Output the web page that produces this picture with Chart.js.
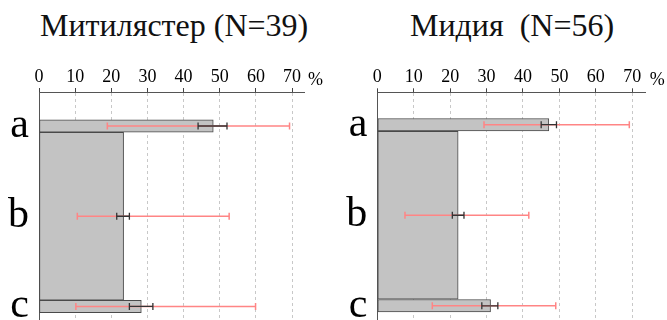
<!DOCTYPE html>
<html>
<head>
<meta charset="utf-8">
<script src="https://cdn.jsdelivr.net/npm/chart.js@4"></script>
<style>
html,body{margin:0;padding:0;background:#fff;overflow:hidden;width:667px;height:320px}
.title{position:absolute;font-family:"Liberation Serif",serif;font-size:32px;line-height:32px;color:#111;white-space:pre}
.box{position:absolute;top:0;height:320px}
</style>
</head>
<body>
<div class="title" id="t1" style="left:40px;top:9px"></div>
<div class="title" id="t2" style="left:410px;top:9px"></div>
<div class="box" style="left:0;width:334px"><canvas id="c1"></canvas></div>
<div class="box" style="left:334px;width:333px"><canvas id="c2"></canvas></div>
<script>
const categories=['a','b','c'];
const xTicks=[0,10,20,30,40,50,60,70];
const titles=['Митилястер (N=39)','Мидия  (N=56)'];

// Митилястер
const mitBars=[48.2,23.4,28.3];
const mitBlackLow=[44.0,21.5,25.0];
const mitBlackHigh=[52.0,25.0,31.5];
const mitRedLow=[18.9,10.6,10.2];
const mitRedHigh=[69.3,52.6,59.9];

// Мидия
const midBars=[47.1,22.2,31.1];
const midBlackLow=[45.0,20.6,28.7];
const midBlackHigh=[49.2,23.8,33.1];
const midRedLow=[29.3,7.6,15.1];
const midRedHigh=[69.2,41.6,49.0];

document.getElementById('t1').textContent=titles[0];
document.getElementById('t2').textContent=titles[1];

const serif='"Liberation Serif", serif';

const makeChart=(id,bars,bLow,bHigh,rLow,rHigh,lay)=>{
  const errorBars={
    id:'errorBars',
    afterDatasetsDraw(chart){
      const {ctx,scales:{x,y}}=chart;
      const draw=(lo,hi,color,w,cap)=>{
        ctx.save();
        ctx.strokeStyle=color;
        ctx.lineWidth=w;
        lo.forEach((v,i)=>{
          const yy=y.getPixelForValue(i);
          const x1=x.getPixelForValue(v),x2=x.getPixelForValue(hi[i]);
          ctx.beginPath();
          ctx.moveTo(x1,yy);ctx.lineTo(x2,yy);
          ctx.moveTo(x1,yy-cap);ctx.lineTo(x1,yy+cap);
          ctx.moveTo(x2,yy-cap);ctx.lineTo(x2,yy+cap);
          ctx.stroke();
        });
        ctx.restore();
      };
      draw(rLow,rHigh,'#ff8585',1.5,3.5);
      draw(bLow,bHigh,'#333',1.3,3.5);
      ctx.save();
      ctx.font='18px '+serif;
      ctx.fillStyle='#000';
      ctx.textBaseline='middle';
      ctx.fillText('%',chart.chartArea.right+4,chart.chartArea.top-12);
      ctx.restore();
    }
  };
  const thin=[],thick=[];
  bars.forEach((v,i)=>{(i===1?thick:thin).push({x:v,y:i});});
  new Chart(document.getElementById(id),{
    type:'bar',
    data:{
      datasets:[
        {data:thin,barThickness:12.5,backgroundColor:'#c3c3c3',borderColor:'#4a4a4a',borderWidth:1,borderSkipped:false,grouped:false},
        {data:thick,barThickness:168,backgroundColor:'#c3c3c3',borderColor:'#4a4a4a',borderWidth:1,borderSkipped:false,grouped:false}
      ]
    },
    plugins:[errorBars],
    options:{
      indexAxis:'y',
      responsive:true,
      maintainAspectRatio:false,
      animation:false,
      layout:{padding:{left:0,right:lay.right,top:0,bottom:0}},
      plugins:{legend:{display:false},tooltip:{enabled:false}},
      scales:{
        x:{
          type:'linear',position:'top',min:0,max:lay.xMax,bounds:'data',
          afterBuildTicks:s=>{s.ticks=xTicks.map(v=>({value:v}));},
          afterFit:s=>{s.height=lay.top;},
          grid:{color:'#c8c8c8',tickColor:'#444',tickLength:4},
          border:{display:true,color:'#555',dash:[3,3]},
          ticks:{font:{family:serif,size:18},color:'#000',padding:0,maxRotation:0}
        },
        y:{
          type:'linear',reverse:true,min:lay.yMin,max:lay.yMax,bounds:'data',offset:false,
          afterBuildTicks:s=>{s.ticks=categories.map((c,i)=>({value:i}));},
          afterFit:s=>{s.width=lay.yW;s.paddingTop=0;s.paddingBottom=0;},
          grid:{display:false,drawTicks:false},
          border:{display:true,color:'#555'},
          ticks:{callback:v=>categories[v],font:{family:serif,size:42},color:'#000',padding:10}
        }
      }
    }
  });
};

makeChart('c1',mitBars,mitBlackLow,mitBlackHigh,mitRedLow,mitRedHigh,
  {right:30,top:92,yW:39,xMax:73.3,yMin:-0.377,yMax:2.15});
makeChart('c2',midBars,midBlackLow,midBlackHigh,midRedLow,midRedHigh,
  {right:21.3,top:92.3,yW:43.3,xMax:73.7,yMin:-0.358,yMax:2.157});
</script>
</body>
</html>
